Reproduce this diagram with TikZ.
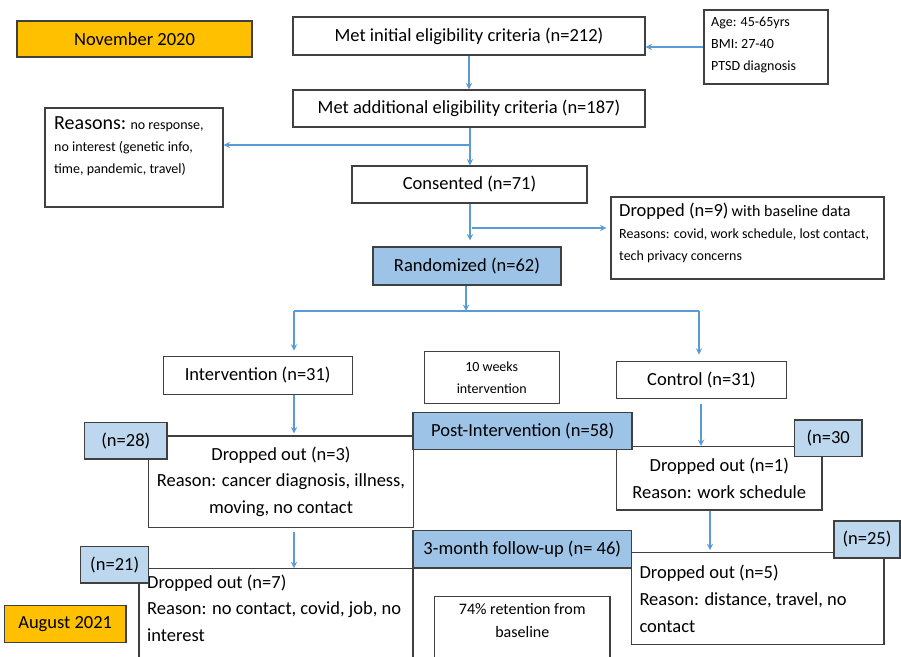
\documentclass[tikz,border=0pt]{standalone}
\usepackage{fontspec}
\setmainfont{Carlito}
\usetikzlibrary{positioning}

\definecolor{arrowblue}{HTML}{5B9BD5}
\definecolor{stageblue}{HTML}{9DC3E6}
\definecolor{countblue}{HTML}{BDD7EE}
\definecolor{monthorange}{HTML}{FFC000}
\definecolor{boxline}{HTML}{404040}

\newcommand{\bigf}{\fontsize{18.5}{26.7}\selectfont}
\newcommand{\smallf}{\fontsize{14}{22}\selectfont}
\newcommand{\midf}{\fontsize{16}{23}\selectfont}
\newcommand{\headf}{\fontsize{20}{26.7}\selectfont}

\tikzset{
  box/.style={draw=boxline, line width=1.3pt, fill=white, inner sep=0pt, font=\bigf},
  stagebox/.style={box, fill=stageblue},
  countbox/.style={box, fill=countblue},
  monthbox/.style={box, fill=monthorange},
  note/.style={inner sep=0pt, align=left, anchor=north west},
  flow/.style={draw=arrowblue, line width=1.8pt, ->},
  link/.style={draw=arrowblue, line width=1.8pt},
}

\begin{document}
\begin{tikzpicture}[x=1pt, y=-1pt, >=stealth]
    \useasboundingbox (0,0) rectangle (901,656);
    \clip (0,0) rectangle (901,656);

    % Screening
    \node[monthbox, minimum width=235pt, minimum height=36pt] (nov) at (134.5,39) {November 2020};
    \node[box, minimum width=352pt, minimum height=38pt] (init) at (469,36) {Met initial eligibility criteria (n=212)};
    \node[box, minimum width=124pt, minimum height=74pt] (age) at (766,47) {};
    \node[note, font=\smallf] (agetext) at (711,17) {Age: 45-65yrs\\BMI: 27-40\\PTSD diagnosis};
    \node[box, minimum width=352pt, minimum height=37pt] (add) at (469,108.5) {Met additional eligibility criteria (n=187)};
    \node[box, minimum width=178pt, minimum height=99pt] (reasons) at (134,157.5) {};
    \node[note, font=\smallf] (reasontext) at (54,116) {{\headf Reasons:} no response,\\no interest (genetic info,\\time, pandemic, travel)};
    \node[box, minimum width=235pt, minimum height=37pt] (consent) at (469.5,184.5) {Consented (n=71)};
    \node[box, minimum width=273pt, minimum height=82pt] (drop9) at (747.5,238) {};
    \node[note, font=\smallf] (drop9text) at (619,203) {{\bigf Dropped (n=9)} {\midf with baseline data}\\Reasons: covid, work schedule, lost contact,\\tech privacy concerns};
    \node[stagebox, minimum width=188pt, minimum height=38pt] (rand) at (467,266) {Randomized (n=62)};

    % Arms
    \node[box, minimum width=189pt, minimum height=38pt] (interv) at (257.7,375.3) {Intervention (n=31)};
    \node[box, minimum width=135pt, minimum height=52pt, font=\smallf, align=center] (weeks) at (491.7,377.2) {10 weeks\\intervention};
    \node[box, minimum width=170pt, minimum height=37pt] (control) at (701.5,379.8) {Control (n=31)};

    % Drop-outs (drawn before the counts that sit on them)
    \node[box, minimum width=264.6pt, minimum height=91.3pt, align=center] (drop3) at (281,481.7) {Dropped out (n=3)\\Reason: cancer diagnosis, illness,\\moving, no contact};
    \node[box, minimum width=205.3pt, minimum height=63.3pt, align=center] (drop1) at (719.3,478.3) {Dropped out (n=1)\\Reason: work schedule};
    \node[box, minimum width=274pt, minimum height=110pt] (drop7) at (276,623.7) {};
    \node[note, font=\bigf] (drop7text) at (147,574.5) {Dropped out (n=7)\\Reason: no contact, covid, job, no\\interest};
    \node[box, minimum width=252.3pt, minimum height=92pt] (drop5) at (757.8,598.7) {};
    \node[note, font=\bigf] (drop5text) at (639.3,565) {Dropped out (n=5)\\Reason: distance, travel, no\\contact};
    \node[box, minimum width=175.3pt, minimum height=73.3pt] (ret) at (522.3,633.3) {};
    \node[inner sep=0pt, align=center, anchor=north, font=\midf] (rettext) at (522.3,603.5) {74\% retention from\\baseline};

    % Counts and time points
    \node[countbox, minimum width=82.3pt, minimum height=36.3pt] (n28) at (125.8,440.8) {(n=28)};
    \node[stagebox, minimum width=219pt, minimum height=36.6pt] (post) at (522.6,431) {Post-Intervention (n=58)};
    \node[countbox, minimum width=67.7pt, minimum height=36.7pt] (n30) at (828.2,438.3) {(n=30};
    \node[countbox, minimum width=68pt, minimum height=36.3pt] (n21) at (114.7,564.8) {(n=21)};
    \node[stagebox, minimum width=218.7pt, minimum height=37.3pt] (fu) at (522.3,549.3) {3-month follow-up (n= 46)};
    \node[countbox, minimum width=66pt, minimum height=37pt] (n25) at (867,539.5) {(n=25)};
    \node[monthbox, minimum width=121.7pt, minimum height=37pt] (aug) at (65.2,624.2) {August 2021};

    % Flow
    \coordinate (spine) at (470,145);
    \coordinate (fork9) at (472,228);
    \coordinate (split) at (466,311);
    \coordinate (armL) at (294,311);
    \coordinate (armR) at (699,311);
    \coordinate (armC) at (701,420);
    \coordinate (arm5) at (710,530);
    \draw[flow] (age.west) -- (age.west -| init.east);
    \draw[flow] (init) -- (add);
    \draw[flow] (spine |- add.south) -- (spine |- consent.north);
    \draw[flow] (spine) -- (spine -| reasons.east);
    \draw[flow, shorten >=6pt] (spine |- consent.south) -- (spine |- rand.north);
    \draw[flow, shorten >=4pt] (fork9) -- (fork9 -| drop9.west);
    \draw[flow] (rand.south -| split) -- (split);
    \draw[link] (armL) -- (armR);
    \draw[flow, shorten >=5pt] (armL) -- (armL |- interv.north);
    \draw[flow, shorten >=6pt] (armR) -- (armR |- control.north);
    \draw[flow, shorten >=2pt] (interv.south -| armL) -- (armL |- drop3.north);
    \draw[flow, shorten <=4pt] (drop3.south -| armL) -- (armL |- drop7.north);
    \draw[flow, shorten <=5pt] (armC |- control.south) -- (armC |- drop1.north);
    \draw[flow, shorten >=2pt] (arm5 |- drop1.south) -- (arm5 |- drop5.north);
\end{tikzpicture}
\end{document}
